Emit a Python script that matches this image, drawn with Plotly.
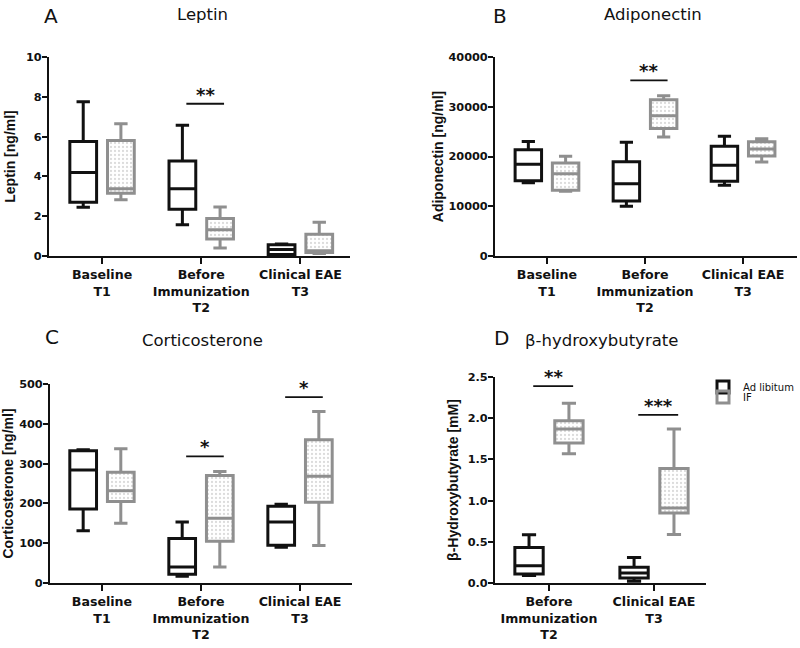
import plotly.graph_objects as go

FONT_B = "DejaVu Sans"
FONT_Y = "Liberation Sans"

cats3 = ["Baseline<br>T1", "Before<br>Immunization<br>T2", "Clinical EAE<br>T3"]
cats2 = ["Before<br>Immunization<br>T2", "Clinical EAE<br>T3"]

# ---- A: Leptin [ng/ml] ----
lep_ad_low = [2.45, 1.57, 0.04]
lep_ad_q1 = [2.7, 2.35, 0.07]
lep_ad_med = [4.2, 3.38, 0.33]
lep_ad_q3 = [5.75, 4.77, 0.57]
lep_ad_up = [7.75, 6.57, 0.6]
lep_if_low = [2.83, 0.4, 0.12]
lep_if_q1 = [3.15, 0.85, 0.17]
lep_if_med = [3.38, 1.32, 0.26]
lep_if_q3 = [5.8, 1.89, 1.09]
lep_if_up = [6.65, 2.46, 1.69]

# ---- B: Adiponectin [ng/ml] ----
adi_ad_low = [14700, 9980, 14200]
adi_ad_q1 = [15140, 11050, 15000]
adi_ad_med = [18420, 14530, 18220]
adi_ad_q3 = [21370, 18960, 22040]
adi_ad_up = [23040, 22840, 24050]
adi_if_low = [13000, 23910, 18890]
adi_if_q1 = [13200, 25650, 20090]
adi_if_med = [16540, 28200, 21500]
adi_if_q3 = [18690, 31410, 22970]
adi_if_up = [20030, 32220, 23580]

# ---- C: Corticosterone [ng/ml] ----
cor_ad_low = [131, 17, 90]
cor_ad_q1 = [186, 22, 95]
cor_ad_med = [284, 40, 153]
cor_ad_q3 = [332, 112, 193]
cor_ad_up = [335, 153, 198]
cor_if_low = [150, 40, 94]
cor_if_q1 = [205, 105, 203]
cor_if_med = [232, 163, 268]
cor_if_q3 = [278, 270, 360]
cor_if_up = [337, 280, 431]

# ---- D: beta-hydroxybutyrate [mM] ----
bhb_ad_low = [0.09, 0.02]
bhb_ad_q1 = [0.11, 0.06]
bhb_ad_med = [0.21, 0.12]
bhb_ad_q3 = [0.43, 0.19]
bhb_ad_up = [0.587, 0.31]
bhb_if_low = [1.57, 0.59]
bhb_if_q1 = [1.70, 0.85]
bhb_if_med = [1.87, 0.91]
bhb_if_q3 = [1.97, 1.39]
bhb_if_up = [2.18, 1.87]

# significance brackets: category index, line height, label
sigA_idx, sigA_y, sigA_txt = [1], [7.65], ["**"]
sigB_idx, sigB_y, sigB_txt = [1], [35300], ["**"]
sigC_idx, sigC_y, sigC_txt = [1, 2], [318, 467], ["*", "*"]
sigD_idx, sigD_y, sigD_txt = [0, 1], [2.39, 2.04], ["**", "***"]

BLACK = "#111111"
GREY = "#8f8f8f"
BOX_OFF = 0.19      # group offset of each box from category centre
BOX_HALF = 0.135    # half width of each box

W, H = 800, 648


def px(x):
    return x / W


def py(y):
    return 1 - y / H


fig = go.Figure()

panels = [
    dict(ax="", cats=cats3, ad=(lep_ad_low, lep_ad_q1, lep_ad_med, lep_ad_q3, lep_ad_up),
         iff=(lep_if_low, lep_if_q1, lep_if_med, lep_if_q3, lep_if_up),
         sig=(sigA_idx, sigA_y, sigA_txt), xdom=[px(49), px(350)], ydom=[py(256), py(57)],
         yr=[0, 10], ytv=[0, 2, 4, 6, 8, 10], yfmt="d", xr=[-0.535, 2.5],
         ytitle="Leptin [ng/ml]", standoff=7),
    dict(ax="2", cats=cats3, ad=(adi_ad_low, adi_ad_q1, adi_ad_med, adi_ad_q3, adi_ad_up),
         iff=(adi_if_low, adi_if_q1, adi_if_med, adi_if_q3, adi_if_up),
         sig=(sigB_idx, sigB_y, sigB_txt), xdom=[px(495), px(797)], ydom=[py(256), py(57)],
         yr=[0, 40000], ytv=[0, 10000, 20000, 30000, 40000], yfmt="d", xr=[-0.53, 2.55],
         ytitle="Adiponectin [ng/ml]", standoff=2),
    dict(ax="3", cats=cats3, ad=(cor_ad_low, cor_ad_q1, cor_ad_med, cor_ad_q3, cor_ad_up),
         iff=(cor_if_low, cor_if_q1, cor_if_med, cor_if_q3, cor_if_up),
         sig=(sigC_idx, sigC_y, sigC_txt), xdom=[px(50), px(352)], ydom=[py(583), py(384)],
         yr=[0, 500], ytv=[0, 100, 200, 300, 400, 500], yfmt="d", xr=[-0.525, 2.525],
         ytitle="Corticosterone [ng/ml]", standoff=4),
    dict(ax="4", cats=cats2, ad=(bhb_ad_low, bhb_ad_q1, bhb_ad_med, bhb_ad_q3, bhb_ad_up),
         iff=(bhb_if_low, bhb_if_q1, bhb_if_med, bhb_if_q3, bhb_if_up),
         sig=(sigD_idx, sigD_y, sigD_txt), xdom=[px(495), px(706)], ydom=[py(583), py(377)],
         yr=[0, 2.5], ytv=[0, 0.5, 1.0, 1.5, 2.0, 2.5], yfmt=".1f", xr=[-0.514, 1.495],
         ytitle="β-Hydroxybutyrate [mM]", standoff=6),
]

xtickfont = dict(family=FONT_B, size=12.6, color=BLACK, weight="bold")
ytickfont = dict(family=FONT_B, size=11.3, color=BLACK, weight="bold")
annotations = []
shapes = []

for k, p in enumerate(panels):
    xa, ya = "x" + p["ax"], "y" + p["ax"]
    ilow, iq1, imed, iq3, iup = p["iff"]
    # dotted pattern fill behind IF boxes
    fig.add_trace(go.Bar(
        x=p["cats"], y=[b - a for a, b in zip(iq1, iq3)], base=iq1,
        offset=BOX_OFF - BOX_HALF, width=2 * BOX_HALF,
        marker=dict(color="white", line=dict(width=0),
                    pattern=dict(shape=".", fgcolor="#b8b8b8", bgcolor="white",
                                 size=4, solidity=0.25)),
        showlegend=False, hoverinfo="skip", xaxis=xa, yaxis=ya))
    for name, stats, col, leg in [("Ad libitum", p["ad"], BLACK, "legend"),
                                  ("IF", p["iff"], GREY, "legend2")]:
        low, q1, med, q3, up = stats
        fig.add_trace(go.Box(
            name=name, x=p["cats"], lowerfence=low, q1=q1, median=med, q3=q3,
            upperfence=up, boxpoints=False, line=dict(color=col, width=3),
            fillcolor="rgba(0,0,0,0)", whiskerwidth=0.5, legendgroup=name,
            legend=leg, alignmentgroup="panel%d" % k,
            offsetgroup="panel%d_%s" % (k, name),
            showlegend=(k == 0), xaxis=xa, yaxis=ya))
    sidx, sy, stxt = p["sig"]
    for i, yv, t in zip(sidx, sy, stxt):
        shapes.append(dict(type="line", xref=xa, yref=ya, x0=i - 0.15, x1=i + 0.23,
                           y0=yv, y1=yv, line=dict(color=BLACK, width=1.8)))
        annotations.append(dict(xref=xa, yref=ya, x=i + 0.04, y=yv, text=t,
                                showarrow=False, yanchor="bottom", yshift=-3,
                                font=dict(family=FONT_B, size=18, color=BLACK,
                                          weight="bold")))
    axkey = "xaxis" + p["ax"]
    aykey = "yaxis" + p["ax"]
    fig.layout[axkey] = dict(domain=p["xdom"], anchor=ya, type="category",
                             range=p["xr"], showline=True, linecolor=BLACK, linewidth=2,
                             ticks="outside", ticklen=6, tickwidth=2, tickcolor=BLACK,
                             tickfont=xtickfont, showgrid=False, zeroline=False,
                             fixedrange=True, automargin=False)
    fig.layout[aykey] = dict(domain=p["ydom"], anchor=xa, range=p["yr"],
                             tickvals=p["ytv"], tickformat=p["yfmt"], showline=True,
                             linecolor=BLACK, linewidth=2, ticks="outside", ticklen=5,
                             tickwidth=2, tickcolor=BLACK, tickfont=ytickfont,
                             ticklabelstandoff=-2,
                             showgrid=False, zeroline=False, automargin=False,
                             title=dict(text=p["ytitle"], standoff=p["standoff"],
                                        font=dict(family=FONT_Y, size=14, color=BLACK,
                                                  weight="bold")))

# panel letters and titles (pixel centres)
letters = ["A", "B", "C", "D"]
letter_xy = [(51, 16), (500, 16), (52, 337), (502, 338)]
titles = ["Leptin", "Adiponectin", "Corticosterone", "β-hydroxybutyrate"]
title_xy = [(202, 15), (653, 15), (202, 340), (601, 340)]
for t, (x, y) in zip(letters, letter_xy):
    annotations.append(dict(xref="paper", yref="paper", x=px(x), y=py(y), text=t,
                            showarrow=False, xanchor="center", yanchor="middle",
                            font=dict(family=FONT_B, size=20, color=BLACK)))
for t, (x, y) in zip(titles, title_xy):
    annotations.append(dict(xref="paper", yref="paper", x=px(x), y=py(y), text=t,
                            showarrow=False, xanchor="center", yanchor="middle",
                            font=dict(family=FONT_B, size=16.5, color=BLACK)))

legfont = dict(family=FONT_B, size=10, color=BLACK)
fig.update_layout(
    width=W, height=H, margin=dict(l=0, r=0, t=0, b=0),
    paper_bgcolor="white", plot_bgcolor="white",
    boxmode="group", boxgap=0.24, boxgroupgap=0.29,
    showlegend=True,
    legend=dict(x=px(703), y=py(387), xanchor="left", yanchor="middle", font=legfont,
                bgcolor="rgba(0,0,0,0)", itemwidth=30, tracegroupgap=0),
    legend2=dict(x=px(703), y=py(397), xanchor="left", yanchor="middle", font=legfont,
                 bgcolor="rgba(0,0,0,0)", itemwidth=30, tracegroupgap=0),
    annotations=annotations, shapes=shapes,
)

# remove the browser's default 8px page margin so the figure sits at (0, 0)
fig.write_html("out.html", config={"displayModeBar": False},
               post_script="document.body.style.margin='0';document.body.style.overflow='hidden';")
